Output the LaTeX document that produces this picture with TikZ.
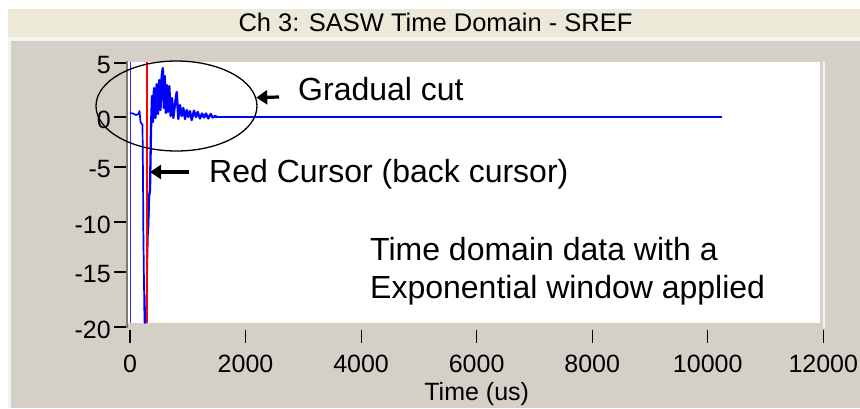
\documentclass[tikz,border=0pt]{standalone}
\usepackage{fontspec}
\setmainfont{Liberation Sans}
\usetikzlibrary{arrows.meta,shapes.geometric}
\definecolor{titlebg}{RGB}{236,233,216}
\definecolor{panelbg}{RGB}{212,208,200}
\definecolor{axisc}{RGB}{128,120,104}
\definecolor{edgec}{RGB}{244,243,238}
\definecolor{sigblue}{RGB}{0,0,255}
\definecolor{curblue}{RGB}{40,40,255}
\definecolor{curred}{RGB}{255,0,0}
\begin{document}
\begin{tikzpicture}[x=1pt,y=-1pt,
  tickline/.style={black,line width=1.2pt},
  ticklab/.style={inner sep=0pt,font=\fontsize{25}{30}\selectfont},
  bigtext/.style={inner sep=0pt,anchor=base west,font=\fontsize{32}{38}\selectfont},
  arr/.style={black,line width=3.2pt,-{Triangle[length=11pt,width=14pt]}},
  sig/.style={sigblue,line width=2.3pt,line join=round}]
\useasboundingbox (0,0) rectangle (860,408);
\fill[white] (0,0) rectangle (860,408);
% title bar
\fill[titlebg] (8.3,9) rectangle (860,36.7);
\node[inner sep=0pt,anchor=base,font=\fontsize{25.5}{30}\selectfont] (title) at (435.5,31.5) {Ch 3: SASW Time Domain - SREF};
% panel
\fill[edgec] (7.5,36.7) rectangle (860,408);
\fill[panelbg] (10.7,41.3) rectangle (860,408);
% plot area
\fill[white] (128.3,62) rectangle (820,322.7);
\fill[edgec] (822.5,61) rectangle (824.7,328);
\fill[axisc] (126,61) rectangle (128.3,327.5);
% y ticks
\foreach \v/\yy/\n in {5/63/a,0/117/b,-5/167/c,-10/222/d,-15/272/e,-20/327/f}{
  \draw[tickline] (114,\yy) -- (126,\yy);
  \node[ticklab,anchor=east] (yl\n) at (111,\yy+2.5) {\v};
}
% x ticks
\foreach \k/\lab in {0/0,1/2000,2/4000,3/6000,4/8000,5/10000,6/12000}{
  \draw[tickline] (130+115.55*\k,329.5) -- (130+115.55*\k,342.5);
  \node[ticklab,anchor=base] (xl\k) at (130+115.55*\k,372.5) {\lab};
}
\node[ticklab,anchor=base] (xtitle) at (476.7,400.5) {Time (us)};
% cursors
\draw[curblue,line width=1pt] (130,62) -- (130,322.7);
% signal
\draw[sigblue,line width=1.6pt] (215,117) -- (722,117);
\draw[sig,line width=1.7pt] (130,113) -- (133,113.5) -- (136,115) -- (138.5,114) -- (139.5,111) -- (140.5,122) -- (142.5,125) -- (143,175) -- (143.3,227) -- (144.5,322.7) -- (146,322.7) -- (148,230) -- (149,197);
\draw[sig] (148,230) -- (149,197) -- (150,190) -- (150.5,160) -- (151,130) -- (152,96) -- (153,122) -- (154,88) -- (155.5,118) -- (156.7,84) -- (158,114) -- (159.3,80) -- (160.5,110) -- (161.7,76) -- (162.8,68) -- (163.8,108) -- (164.8,76) -- (165.8,113) -- (166.8,85) -- (168,112) -- (169.3,86) -- (170.6,116) -- (172,98) -- (173.3,118) -- (175,104) -- (176.7,92) -- (178.3,119) -- (180,105) -- (181.7,116) -- (183.3,108) -- (185,119) -- (186.7,110) -- (188.3,117) -- (190,111) -- (191.7,120) -- (194,110.7) -- (196,117) -- (197.7,112) -- (200,118.5) -- (202,113.5) -- (204,117.5) -- (206,113.5) -- (208.3,118.5) -- (210.7,114) -- (212.7,117.5) -- (215,116) -- (217,117);
\draw[curred,line width=1.7pt] (146.8,62) -- (146.8,322.7);
% ellipse
\node[ellipse,draw,black,line width=1.3pt,minimum width=161pt,minimum height=90pt,inner sep=0pt] (cut) at (176.5,106) {};
% annotations
\node[bigtext] (gtext) at (298,100) {Gradual cut};
\node[bigtext] (rtext) at (209,182) {Red Cursor (back cursor)};
\node[bigtext] (t1) at (370,260) {Time domain data with a};
\node[bigtext] (t2) at (370,298) {Exponential window applied};
\coordinate (gtail) at (279,97);
\coordinate (rtail) at (189,172);
\coordinate (rtip) at (150,172);
\draw[arr] (gtail) -- (cut.6.5);
\draw[arr] (rtail) -- (rtip);
\end{tikzpicture}
\end{document}
